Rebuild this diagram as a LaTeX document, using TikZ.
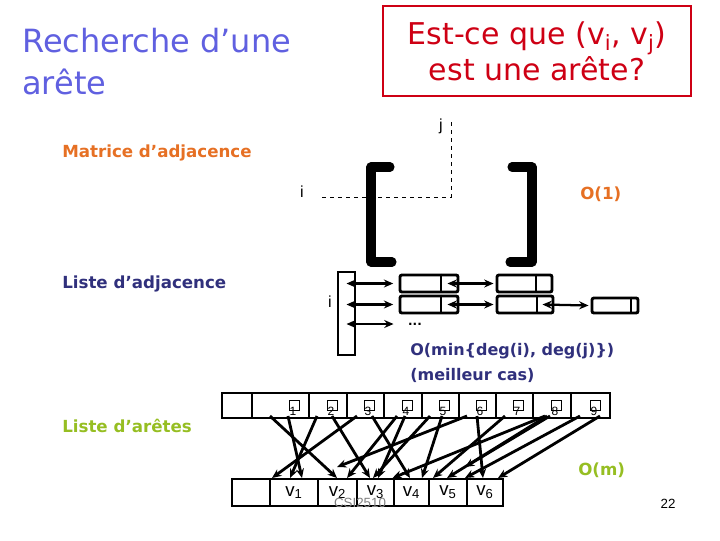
\documentclass[tikz,border=0pt]{standalone}
\usepackage{fontspec}
\setmainfont{DejaVu Sans}
\newfontfamily\arialfont{Liberation Sans}
\usetikzlibrary{arrows.meta,calc}
\definecolor{titleblue}{RGB}{96,96,224}
\definecolor{qred}{RGB}{206,0,20}
\definecolor{orng}{RGB}{230,112,36}
\definecolor{dkblue}{RGB}{48,48,124}
\definecolor{lime}{RGB}{150,190,34}

\begin{document}
\begin{tikzpicture}[x=0.75pt, y=-0.75pt, >={Stealth[length=7pt,width=6pt]},
  lbl/.style={font=\bfseries\fontsize{12.5}{15}\selectfont, anchor=base west, inner sep=0pt},
  small/.style={font=\arialfont\fontsize{12}{14}\selectfont, inner sep=0pt},
  cell/.style={draw, line width=1.8pt, inner sep=0pt, outer sep=0pt},
  lnode/.style={draw, line width=2.2pt, rounded corners=1.5pt, inner sep=0pt, minimum height=12.75pt},
  dbl/.style={<->, line width=1.7pt},
  ptr/.style={->, line width=2.1pt}]

  \useasboundingbox (0,0) rectangle (720,540);

  % titre et question
  \node[anchor=north west, align=left, inner sep=0pt, text=titleblue, font=\fontsize{24}{31.5}\selectfont] (title) at (22,28) {Recherche d'une\\arête};
  \node[draw=qred, line width=0.8pt, text=qred, align=center, minimum width=231pt, minimum height=67.5pt, font=\fontsize{22.5}{25}\selectfont] (question) at (537,51) {Est-ce que (v\textsubscript{i}, v\textsubscript{j})\\est une arête?};

  % matrice d'adjacence
  \node[lbl, text=orng] (matlbl) at (62,157) {Matrice d'adjacence};
  \node[small] (jlab) at (441,126) {j};
  \node[small] (ilab) at (302,192) {i};
  \coordinate (cross) at (451,197);
  \draw[dashed, line width=0.6pt] ($(cross -| ilab.east)+(18,0)$) -- (cross) -- (cross |- jlab.north);
  \draw[line width=6.8pt, line cap=round, line join=round] (390,167) -- (371,167) -- (371,262) -- (392,262);
  \draw[line width=6.8pt, line cap=round, line join=round] (512,167) -- (532,167) -- (532,262) -- (510,262);
  \node[lbl, text=orng] (o1) at (580,199) {O(1)};

  % liste d'adjacence
  \node[lbl, text=dkblue] (adjlbl) at (62,288) {Liste d'adjacence};
  \node[draw, line width=0.8pt, minimum width=12.75pt, minimum height=62.25pt, inner sep=0pt] (tab) at (346.5,313.5) {};
  \node[small] (ilab2) at (330,302) {i};
  \node[lnode, minimum width=43.5pt] (n11) at (429,283.5) {};
  \node[lnode, minimum width=41.25pt] (n12) at (524.5,283.5) {};
  \node[lnode, minimum width=43.5pt] (n21) at (429,304.5) {};
  \node[lnode, minimum width=42pt] (n22) at (525,304.5) {};
  \node[lnode, minimum width=34.5pt, minimum height=11.25pt] (n23) at (615,305.5) {};
  \foreach \n/\d in {n11/18, n12/17, n21/18, n22/17, n23/8}
    \draw[line width=1.5pt] ([xshift=-\d*0.75pt]\n.north east) -- ([xshift=-\d*0.75pt]\n.south east);
  \node[inner sep=0pt, font=\bfseries\fontsize{9}{10}\selectfont] (dots) at (415,324) {...};
  \draw[dbl] (tab.center |- n11.west) -- ([xshift=-4pt]n11.west);
  \draw[dbl] (tab.center |- n21.west) -- ([xshift=-4pt]n21.west);
  \draw[dbl] (tab.center |- dots) -- ($(n21.west |- dots)+(-5,0)$);
  \draw[dbl] ([xshift=-9pt]n11.east) -- ([xshift=-1.5pt]n12.west);
  \draw[dbl] ([xshift=-9pt]n21.east) -- ([xshift=-1.5pt]n22.west);
  \draw[dbl] ([xshift=-9pt]n22.east) -- ([xshift=-1.5pt]n23.west);
  \node[lbl, text=dkblue, font=\bfseries\fontsize{12}{15}\selectfont] (cost) at (410,355) {O(min\{deg(i), deg(j)\})};
  \node[lbl, text=dkblue, font=\bfseries\fontsize{12}{15}\selectfont] (best) at (410,380) {(meilleur cas)};

  % liste d'aretes
  \node[lbl, text=lime] (edgelbl) at (62,432) {Liste d'arêtes};
  \foreach \l/\r [count=\k from 0] in {222/252,252/309,309/347,347/384,384/422,422/459,459/496,496/533,533/571,571/610}
    \node[cell, minimum width={(\r-\l)*0.75pt}, minimum height=18.75pt] (e\k) at ({(\l+\r)/2},405.5) {};
  \foreach \k in {1,...,9} {
    \draw[line width=0.5pt] ([shift={(-20,-5.5)}]e\k.east) rectangle ([shift={(-10,4.5)}]e\k.east);
    \node[inner sep=0pt, font=\arialfont\fontsize{9}{10}\selectfont] (d\k) at ([shift={(-16,6)}]e\k.east) {\k};
  }
  \foreach \l/\r [count=\k from 0] in {232/270,270/318,318/357,357/394,394/429,429/467,467/503}
    \node[cell, minimum width={(\r-\l)*0.75pt}, minimum height=20.25pt, font=\arialfont\fontsize{14}{16}\selectfont] (b\k) at ({(\l+\r)/2},492.5) {\ifnum\k>0 v\textsubscript{\k}\fi};
  \foreach \s/\sx/\t/\tx/\ty in {1/-10.5/2/-0.5/-1, 1/7.5/1/8/-1, 2/-11/1/-4/-1, 2/4/3/-5.5/-1, 3/-8.5/1/-22/-1, 3/6.5/4/-1.5/-1, 4/-6/2/9.5/-1, 4/2/3/2.5/-1, 5/-10.5/3/-2.5/-1, 5/1.5/4/10.5/-1, 6/-10.5/2/-0.5/-12, 6/-0.5/6/-2/-1, 7/-9.5/5/-15/-1, 8/-7/3/17/-1, 8/-5/5/-1/-1, 8/-2/5/17/-12, 9/-10.5/5/17/-1, 9/9.5/6/13/-1}
    \draw[ptr] ([shift={(\sx,-2)}]e\s.south) -- ([shift={(\tx,\ty)}]b\t.north);
  \node[lbl, text=lime] (om) at (578,475) {O(m)};

  \node[small, text=gray, font=\arialfont\fontsize{10}{12}\selectfont] (csi) at (360,503) {CSI2510};
  \node[small, font=\arialfont\fontsize{10}{12}\selectfont] (page) at (668,504) {22};
\end{tikzpicture}
\end{document}
